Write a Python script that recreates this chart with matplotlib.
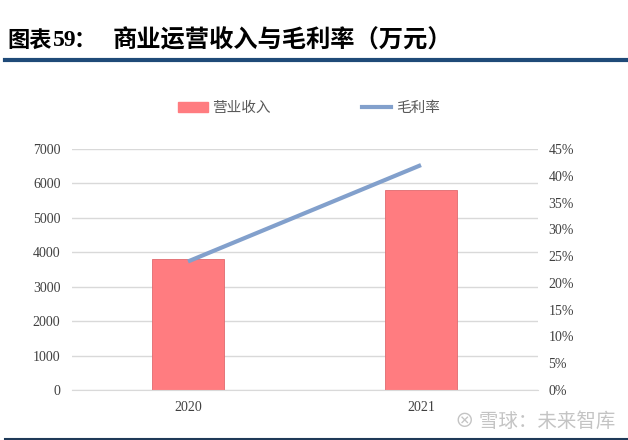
import numpy as np
import matplotlib
matplotlib.use('Agg')
from matplotlib import pyplot as plt
from matplotlib.patches import Patch
from matplotlib.lines import Line2D

plt.rcParams['font.family'] = ['Noto Sans CJK SC', 'DejaVu Sans']

years = ['2020', '2021']
revenue = [3800, 5810]
margin = [24.0, 42.0]

left_ticks = [0, 1000, 2000, 3000, 4000, 5000, 6000, 7000]
right_ticks = [0, 5, 10, 15, 20, 25, 30, 35, 40, 45]

bar_color = '#FF7C80'
line_color = '#82A0CC'
serif = ['Liberation Serif', 'DejaVu Serif']


def main():
    fig = plt.figure(figsize=(6.28, 4.40), dpi=100)

    # title and rules
    ty = 1 - 40 / 440
    fig.text(7 / 628, ty, '图表', fontsize=16, fontweight='bold', va='center', ha='left')
    fig.text(52.5 / 628, ty, '59', fontsize=17, fontweight='bold', va='center', ha='left',
             family=serif)
    fig.text(74 / 628, ty, '：', fontsize=16, fontweight='bold', va='center', ha='left')
    fig.text(113 / 628, ty, '商业运营收入与毛利率（万元）',
             fontsize=17.5, fontweight='bold', va='center', ha='left')
    fig.add_artist(Line2D([5 / 628, 1.0], [1 - 60 / 440, 1 - 60 / 440],
                          color='#1F4A78', linewidth=3, transform=fig.transFigure))
    fig.add_artist(Line2D([5 / 628, 1.0], [1 - 438.5 / 440, 1 - 438.5 / 440],
                          color='#1F3A58', linewidth=1.5, transform=fig.transFigure))

    ax = fig.add_axes([71.5 / 628, 1 - 390 / 440, 466 / 628, 241 / 440])
    x = np.arange(len(years))
    ax.bar(x, revenue, width=0.31, color=bar_color, edgecolor='#E06A6E',
           linewidth=0.6, zorder=2)
    ax.set_xlim(-0.5, len(years) - 0.5)
    ax.set_ylim(0, 7000)
    ax.set_yticks(left_ticks)
    ax.set_yticklabels([str(v) for v in left_ticks], fontsize=10,
                       family=serif, color='#404040')
    ax.set_xticks(x)
    ax.set_xticklabels(years, fontsize=10, family=serif, color='#404040')
    ax.grid(axis='y', color='#D9D9D9', linewidth=1, zorder=0)
    for s in ['top', 'left', 'right']:
        ax.spines[s].set_visible(False)
    ax.spines['bottom'].set_color('#D9D9D9')
    ax.tick_params(axis='both', length=0, pad=8)

    ax2 = ax.twinx()
    ax2.plot(x, margin, color=line_color, linewidth=3, solid_capstyle='butt', zorder=3)
    ax2.set_ylim(0, 45)
    ax2.set_yticks(right_ticks)
    ax2.set_yticklabels([f'{v}%' for v in right_ticks], fontsize=10,
                        family=serif, color='#404040')
    for s in ['top', 'left', 'right', 'bottom']:
        ax2.spines[s].set_visible(False)
    ax2.tick_params(axis='y', length=0, pad=8)

    handles = [Patch(facecolor=bar_color, edgecolor=bar_color),
               Line2D([], [], color=line_color, linewidth=3)]
    fig.legend(handles, ['营业收入', '毛利率'], loc='center',
               bbox_to_anchor=(309 / 628, 1 - 108 / 440), ncol=2, frameon=False,
               fontsize=10.5, columnspacing=6.3, handlelength=2.0, handletextpad=0.3,
               labelcolor='#595959')

    fig.text(455 / 628, 1 - 421 / 440, '⊗ 雪球：未来智库', fontsize=14,
             color='#C4C4C4', ha='left', va='center')

    fig.savefig('out.png', dpi=100)


if __name__ == '__main__':
    main()
